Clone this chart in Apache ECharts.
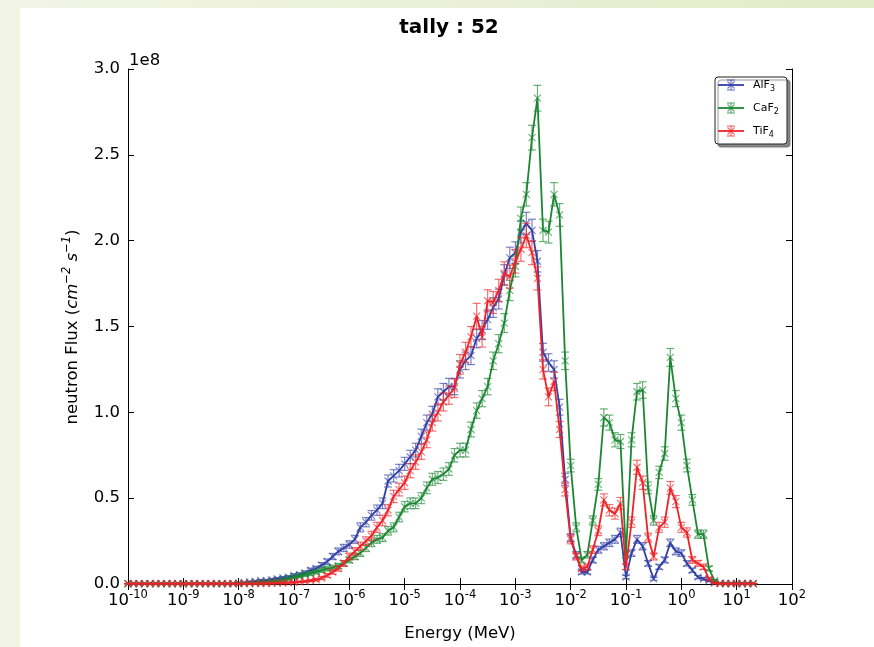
<!DOCTYPE html>
<html>
<head>
<meta charset="utf-8">
<title>tally : 52</title>
<script src="https://cdn.jsdelivr.net/npm/echarts@6/dist/echarts.min.js"></script>
<style>
  html, body { margin: 0; padding: 0; background: #fff; }
  #chart { width: 874px; height: 647px; }
</style>
</head>
<body>
<div id="chart"></div>
<script>
// energy group points (MeV), 10 per decade
const energyMeV = [
  1.00e-10, 1.26e-10, 1.58e-10, 2.00e-10, 2.51e-10, 3.16e-10, 3.98e-10, 5.01e-10, 6.31e-10, 7.94e-10,
  1.00e-9, 1.26e-9, 1.58e-9, 2.00e-9, 2.51e-9, 3.16e-9, 3.98e-9, 5.01e-9, 6.31e-9, 7.94e-9,
  1.00e-8, 1.26e-8, 1.58e-8, 2.00e-8, 2.51e-8, 3.16e-8, 3.98e-8, 5.01e-8, 6.31e-8, 7.94e-8,
  1.00e-7, 1.26e-7, 1.58e-7, 2.00e-7, 2.51e-7, 3.16e-7, 3.98e-7, 5.01e-7, 6.31e-7, 7.94e-7,
  1.00e-6, 1.26e-6, 1.58e-6, 2.00e-6, 2.51e-6, 3.16e-6, 3.98e-6, 5.01e-6, 6.31e-6, 7.94e-6,
  1.00e-5, 1.26e-5, 1.58e-5, 2.00e-5, 2.51e-5, 3.16e-5, 3.98e-5, 5.01e-5, 6.31e-5, 7.94e-5,
  1.00e-4, 1.26e-4, 1.58e-4, 2.00e-4, 2.51e-4, 3.16e-4, 3.98e-4, 5.01e-4, 6.31e-4, 7.94e-4,
  1.00e-3, 1.26e-3, 1.58e-3, 2.00e-3, 2.51e-3, 3.16e-3, 3.98e-3, 5.01e-3, 6.31e-3, 7.94e-3,
  1.00e-2, 1.26e-2, 1.58e-2, 2.00e-2, 2.51e-2, 3.16e-2, 3.98e-2, 5.01e-2, 6.31e-2, 7.94e-2,
  1.00e-1, 1.26e-1, 1.58e-1, 2.00e-1, 2.51e-1, 3.16e-1, 3.98e-1, 5.01e-1, 6.31e-1, 7.94e-1,
  1.00, 1.26, 1.58, 2.00, 2.51, 3.16, 3.98, 5.01, 6.31, 7.94,
  10.0, 12.6, 15.8, 20.0
]

// flux in units of 1e8 cm^-2 s^-1
const alf3Flux = [
  0.002, 0.002, 0.002, 0.002, 0.002, 0.002, 0.002, 0.002, 0.002, 0.002,
  0.002, 0.002, 0.002, 0.002, 0.002, 0.002, 0.002, 0.002, 0.002, 0.002,
  0.005, 0.008, 0.012, 0.015, 0.02, 0.02, 0.025, 0.03, 0.035, 0.04,
  0.05, 0.055, 0.065, 0.08, 0.09, 0.11, 0.13, 0.16, 0.19, 0.21,
  0.23, 0.26, 0.33, 0.36, 0.40, 0.43, 0.47, 0.60, 0.63, 0.66,
  0.70, 0.74, 0.78, 0.86, 0.94, 0.99, 1.09, 1.12, 1.15, 1.15,
  1.25, 1.30, 1.33, 1.43, 1.48, 1.54, 1.61, 1.66, 1.80, 1.90,
  1.93, 2.05, 2.10, 2.06, 1.88, 1.35, 1.29, 1.25, 1.03, 0.61,
  0.27, 0.17, 0.07, 0.07, 0.14, 0.20, 0.22, 0.24, 0.26, 0.30,
  0.04, 0.18, 0.26, 0.22, 0.12, 0.03, 0.10, 0.14, 0.24, 0.19,
  0.18, 0.12, 0.08, 0.04, 0.03, 0.02, 0.01, 0.005, 0.003, 0.003,
  0.003, 0.003, 0.003, 0.003
]
const alf3Err = [
  0.001, 0.001, 0.001, 0.001, 0.001, 0.001, 0.001, 0.001, 0.001, 0.001,
  0.001, 0.001, 0.001, 0.001, 0.001, 0.001, 0.001, 0.001, 0.001, 0.001,
  0.002, 0.003, 0.004, 0.005, 0.006, 0.006, 0.007, 0.008, 0.008, 0.009,
  0.010, 0.011, 0.012, 0.013, 0.014, 0.015, 0.016, 0.018, 0.020, 0.021,
  0.022, 0.023, 0.026, 0.027, 0.028, 0.030, 0.031, 0.035, 0.036, 0.037,
  0.038, 0.039, 0.040, 0.042, 0.044, 0.045, 0.047, 0.048, 0.048, 0.048,
  0.050, 0.051, 0.052, 0.054, 0.055, 0.056, 0.057, 0.058, 0.060, 0.062,
  0.063, 0.064, 0.065, 0.065, 0.062, 0.052, 0.051, 0.050, 0.046, 0.035,
  0.023, 0.019, 0.012, 0.012, 0.017, 0.020, 0.021, 0.022, 0.023, 0.025,
  0.009, 0.019, 0.023, 0.021, 0.016, 0.008, 0.014, 0.017, 0.022, 0.020,
  0.019, 0.016, 0.013, 0.009, 0.008, 0.006, 0.004, 0.002, 0.001, 0.001,
  0.001, 0.001, 0.001, 0.001
]

const caf2Flux = [
  0.002, 0.002, 0.002, 0.002, 0.002, 0.002, 0.002, 0.002, 0.002, 0.002,
  0.002, 0.002, 0.002, 0.002, 0.002, 0.002, 0.002, 0.002, 0.002, 0.002,
  0.003, 0.004, 0.005, 0.007, 0.008, 0.01, 0.013, 0.017, 0.022, 0.03,
  0.04, 0.045, 0.055, 0.06, 0.07, 0.08, 0.09, 0.095, 0.105, 0.12,
  0.14, 0.16, 0.18, 0.21, 0.24, 0.26, 0.27, 0.31, 0.33, 0.39,
  0.45, 0.47, 0.47, 0.50, 0.56, 0.61, 0.62, 0.64, 0.67, 0.75,
  0.78, 0.78, 0.90, 1.01, 1.08, 1.15, 1.30, 1.40, 1.52, 1.71,
  1.85, 2.13, 2.27, 2.60, 2.83, 2.06, 2.05, 2.27, 2.15, 1.30,
  0.69, 0.33, 0.14, 0.17, 0.37, 0.58, 0.97, 0.94, 0.84, 0.83,
  0.17, 0.84, 1.12, 1.13, 0.56, 0.37, 0.65, 0.76, 1.32, 1.08,
  0.94, 0.69, 0.49, 0.29, 0.29, 0.09, 0.02, 0.002, 0.002, 0.002,
  0.002, 0.002, 0.002, 0.002
]
const caf2Err = [
  0.001, 0.001, 0.001, 0.001, 0.001, 0.001, 0.001, 0.001, 0.001, 0.001,
  0.001, 0.001, 0.001, 0.001, 0.001, 0.001, 0.001, 0.001, 0.001, 0.001,
  0.001, 0.002, 0.002, 0.003, 0.003, 0.004, 0.005, 0.006, 0.007, 0.008,
  0.009, 0.010, 0.011, 0.011, 0.012, 0.013, 0.014, 0.014, 0.015, 0.016,
  0.017, 0.018, 0.019, 0.021, 0.022, 0.023, 0.023, 0.025, 0.026, 0.028,
  0.030, 0.031, 0.031, 0.032, 0.034, 0.035, 0.035, 0.036, 0.037, 0.039,
  0.040, 0.040, 0.043, 0.045, 0.047, 0.048, 0.051, 0.053, 0.055, 0.059,
  0.061, 0.066, 0.068, 0.072, 0.075, 0.065, 0.064, 0.068, 0.066, 0.051,
  0.037, 0.026, 0.017, 0.019, 0.027, 0.034, 0.050, 0.044, 0.041, 0.041,
  0.019, 0.041, 0.048, 0.048, 0.034, 0.027, 0.036, 0.039, 0.052, 0.047,
  0.044, 0.037, 0.031, 0.024, 0.024, 0.014, 0.006, 0.001, 0.001, 0.001,
  0.001, 0.001, 0.001, 0.001
]

const tif4Flux = [
  0.002, 0.002, 0.002, 0.002, 0.002, 0.002, 0.002, 0.002, 0.002, 0.002,
  0.002, 0.002, 0.002, 0.002, 0.002, 0.002, 0.002, 0.002, 0.002, 0.002,
  0.002, 0.002, 0.002, 0.002, 0.002, 0.003, 0.004, 0.005, 0.006, 0.008,
  0.01, 0.012, 0.015, 0.02, 0.025, 0.035, 0.05, 0.07, 0.09, 0.12,
  0.16, 0.19, 0.22, 0.25, 0.28, 0.33, 0.37, 0.43, 0.51, 0.55,
  0.59, 0.66, 0.71, 0.77, 0.84, 0.94, 1.00, 1.06, 1.10, 1.14,
  1.28, 1.35, 1.44, 1.56, 1.44, 1.65, 1.64, 1.71, 1.81, 1.79,
  1.88, 1.95, 2.03, 1.93, 1.78, 1.25, 1.09, 1.18, 0.90, 0.55,
  0.26, 0.16, 0.09, 0.10, 0.20, 0.31, 0.49, 0.43, 0.41, 0.47,
  0.10, 0.36, 0.68, 0.59, 0.27, 0.16, 0.33, 0.36, 0.56, 0.48,
  0.33, 0.30, 0.14, 0.12, 0.10, 0.03, 0.005, 0.002, 0.002, 0.002,
  0.002, 0.002, 0.002, 0.002
]
const tif4Err = [
  0.001, 0.001, 0.001, 0.001, 0.001, 0.001, 0.001, 0.001, 0.001, 0.001,
  0.001, 0.001, 0.001, 0.001, 0.001, 0.001, 0.001, 0.001, 0.001, 0.001,
  0.001, 0.001, 0.001, 0.001, 0.001, 0.001, 0.002, 0.002, 0.002, 0.003,
  0.004, 0.004, 0.005, 0.006, 0.007, 0.009, 0.011, 0.013, 0.015, 0.017,
  0.020, 0.022, 0.024, 0.025, 0.027, 0.029, 0.031, 0.033, 0.036, 0.037,
  0.039, 0.041, 0.042, 0.044, 0.046, 0.049, 0.050, 0.052, 0.053, 0.054,
  0.057, 0.058, 0.060, 0.075, 0.060, 0.064, 0.064, 0.065, 0.067, 0.067,
  0.069, 0.070, 0.071, 0.070, 0.067, 0.056, 0.052, 0.054, 0.047, 0.037,
  0.026, 0.020, 0.015, 0.016, 0.022, 0.028, 0.035, 0.033, 0.032, 0.034,
  0.016, 0.030, 0.041, 0.039, 0.026, 0.020, 0.029, 0.030, 0.037, 0.035,
  0.029, 0.027, 0.019, 0.017, 0.016, 0.008, 0.002, 0.001, 0.001, 0.001,
  0.001, 0.001, 0.001, 0.001
]

const seriesNames = ['AlF3', 'CaF2', 'TiF4']
const legendBase = ['AlF', 'CaF', 'TiF']
const legendSub = ['3', '2', '4']
const yTicks = [0, 0.5, 1.0, 1.5, 2.0, 2.5, 3.0]

const colors = ['#3240a6', '#1b8732', '#ee2328']
const FONT = 'DejaVu Sans'

const chart = echarts.init(document.getElementById('chart'))

const toPairs = (vals, errs) => energyMeV.map((e, i) => [e, vals[i], errs[i]])
const allData = [toPairs(alf3Flux, alf3Err), toPairs(caf2Flux, caf2Err), toPairs(tif4Flux, tif4Err)]

// errorbar + 'x' marker, like matplotlib errorbar(..., marker='x', capsize)
const errorBarItem = (color) => (params, api) => {
  const x = api.value(0)
  const y = api.value(1)
  const e = api.value(2)
  const c = api.coord([x, y])
  const hi = api.coord([x, y + e])
  const lo = api.coord([x, y - e])
  const cap = 4
  const m = 3.5
  const st = () => ({ stroke: color, lineWidth: 1.2, opacity: 0.65 })
  return {
    type: 'group',
    children: [
      { type: 'line', shape: { x1: c[0], y1: hi[1], x2: c[0], y2: lo[1] }, style: st() },
      { type: 'line', shape: { x1: c[0] - cap, y1: hi[1], x2: c[0] + cap, y2: hi[1] }, style: st() },
      { type: 'line', shape: { x1: c[0] - cap, y1: lo[1], x2: c[0] + cap, y2: lo[1] }, style: st() },
      { type: 'line', shape: { x1: c[0] - m, y1: c[1] - m, x2: c[0] + m, y2: c[1] + m }, style: st() },
      { type: 'line', shape: { x1: c[0] - m, y1: c[1] + m, x2: c[0] + m, y2: c[1] - m }, style: st() }
    ]
  }
}

const series = []
seriesNames.forEach((name, k) => {
  series.push({
    name,
    type: 'line',
    data: allData[k],
    symbol: 'none',
    showSymbol: false,
    lineStyle: { color: colors[k], width: 1.8 },
    itemStyle: { color: colors[k] },
    emphasis: { disabled: true },
    z: 2 + k * 2
  })
  series.push({
    name: name + ' err',
    type: 'custom',
    data: allData[k],
    encode: { x: 0, y: 1 },
    renderItem: errorBarItem(colors[k]),
    z: 3 + k * 2
  })
})

// legend drawn by hand (matplotlib box with shadow)
const legendRows = [85, 108, 131]
const legendEls = [
  {
    type: 'rect',
    shape: { x: 715, y: 77, width: 72, height: 67, r: 3 },
    style: { fill: '#fff', stroke: '#222', lineWidth: 1, shadowColor: 'rgba(0,0,0,0.45)', shadowOffsetX: 3, shadowOffsetY: 3, shadowBlur: 1 },
    z: 100
  }
]
legendRows.forEach((ly, k) => {
  const c = colors[k]
  const mx = 731
  const op = { stroke: c, lineWidth: 1.2, opacity: 0.65 }
  legendEls.push(
    { type: 'line', shape: { x1: 718, y1: ly, x2: 744, y2: ly }, style: { stroke: c, lineWidth: 1.8 }, z: 101 },
    { type: 'line', shape: { x1: mx, y1: ly - 5, x2: mx, y2: ly + 5 }, style: Object.assign({}, op), z: 101 },
    { type: 'line', shape: { x1: mx - 4, y1: ly - 5, x2: mx + 4, y2: ly - 5 }, style: Object.assign({}, op), z: 101 },
    { type: 'line', shape: { x1: mx - 4, y1: ly + 5, x2: mx + 4, y2: ly + 5 }, style: Object.assign({}, op), z: 101 },
    { type: 'line', shape: { x1: mx - 3.5, y1: ly - 3.5, x2: mx + 3.5, y2: ly + 3.5 }, style: Object.assign({}, op), z: 101 },
    { type: 'line', shape: { x1: mx - 3.5, y1: ly + 3.5, x2: mx + 3.5, y2: ly - 3.5 }, style: Object.assign({}, op), z: 101 },
    {
      type: 'text',
      x: 753,
      y: ly,
      style: {
        text: '{n|' + legendBase[k] + '}{s|' + legendSub[k] + '}',
        verticalAlign: 'middle',
        align: 'left',
        rich: {
          n: { fontFamily: FONT, fontSize: 11, lineHeight: 16, fill: '#000', verticalAlign: 'middle' },
          s: { fontFamily: FONT, fontSize: 8, lineHeight: 9, fill: '#000', verticalAlign: 'bottom' }
        }
      },
      z: 101
    }
  )
})

const logAxisBase = {
  type: 'log',
  logBase: 10,
  min: 1e-10,
  max: 1e2,
  interval: 1,
  splitNumber: 12,
  splitLine: { show: false },
  axisLine: { show: true, lineStyle: { color: '#000', width: 1 } },
  axisTick: { show: true, inside: true, length: 6, lineStyle: { color: '#000', width: 1 } }
}
const valueAxisBase = {
  type: 'value',
  min: yTicks[0],
  max: yTicks[yTicks.length - 1],
  interval: 0.5,
  splitLine: { show: false },
  axisLine: { show: true, lineStyle: { color: '#000', width: 1 } },
  axisTick: { show: true, inside: true, length: 6, lineStyle: { color: '#000', width: 1 } }
}

const option = {
  animation: false,
  backgroundColor: new echarts.graphic.LinearGradient(0, 0, 1, 0, [
    { offset: 0, color: '#f2f5e6' },
    { offset: 1, color: '#e3eac8' }
  ]),
  grid: { left: 128, right: 82, top: 69, bottom: 63, containLabel: false, outerBoundsMode: 'none' },
  xAxis: [
    Object.assign({}, logAxisBase, {
      position: 'bottom',
      axisLabel: {
        show: true,
        margin: 5,
        hideOverlap: false,
        interval: 0,
        formatter: (v) => '{b|10}{s|' + Math.round(Math.log10(v)) + '}',
        rich: {
          b: { fontFamily: FONT, fontSize: 16.5, lineHeight: 24, color: '#000', verticalAlign: 'middle' },
          s: { fontFamily: FONT, fontSize: 11.5, lineHeight: 12, color: '#000', verticalAlign: 'top' }
        }
      }
    }),
    Object.assign({}, logAxisBase, { position: 'top', axisLabel: { show: false } })
  ],
  yAxis: [
    Object.assign({}, valueAxisBase, {
      position: 'left',
      axisLabel: {
        show: true,
        margin: 8,
        fontFamily: FONT,
        fontSize: 16.5,
        color: '#000',
        formatter: (v) => v.toFixed(1)
      }
    }),
    Object.assign({}, valueAxisBase, { position: 'right', axisLabel: { show: false } })
  ],
  series,
  graphic: {
    elements: [
      { type: 'rect', shape: { x: 20, y: 8, width: 854, height: 639 }, style: { fill: '#fff' }, z: -10, silent: true },
      {
        type: 'text', x: 449, y: 28,
        style: { text: 'tally : 52', fontFamily: FONT, fontSize: 20, fontWeight: 'bold', fill: '#000', align: 'center', verticalAlign: 'middle' }
      },
      {
        type: 'text', x: 129, y: 69,
        style: { text: '1e8', fontFamily: FONT, fontSize: 16.5, fill: '#000', align: 'left', verticalAlign: 'bottom' }
      },
      {
        type: 'text', x: 460, y: 634,
        style: { text: 'Energy (MeV)', fontFamily: FONT, fontSize: 16.5, fill: '#000', align: 'center', verticalAlign: 'middle' }
      },
      {
        type: 'text', x: 73, y: 327, rotation: Math.PI / 2,
        style: {
          text: '{t|neutron Flux (}{i|cm}{s|\u22122}{i| s}{s|\u22121}{t|)}',
          align: 'center',
          verticalAlign: 'middle',
          rich: {
            t: { fontFamily: FONT, fontSize: 16.5, lineHeight: 24, fill: '#000', verticalAlign: 'middle' },
            i: { fontFamily: FONT, fontSize: 16.5, fontStyle: 'italic', lineHeight: 24, fill: '#000', verticalAlign: 'middle' },
            s: { fontFamily: FONT, fontSize: 11.5, fontStyle: 'italic', lineHeight: 12, fill: '#000', verticalAlign: 'top' }
          }
        }
      }
    ].concat(legendEls)
  }
}

chart.setOption(option)
</script>
</body>
</html>
